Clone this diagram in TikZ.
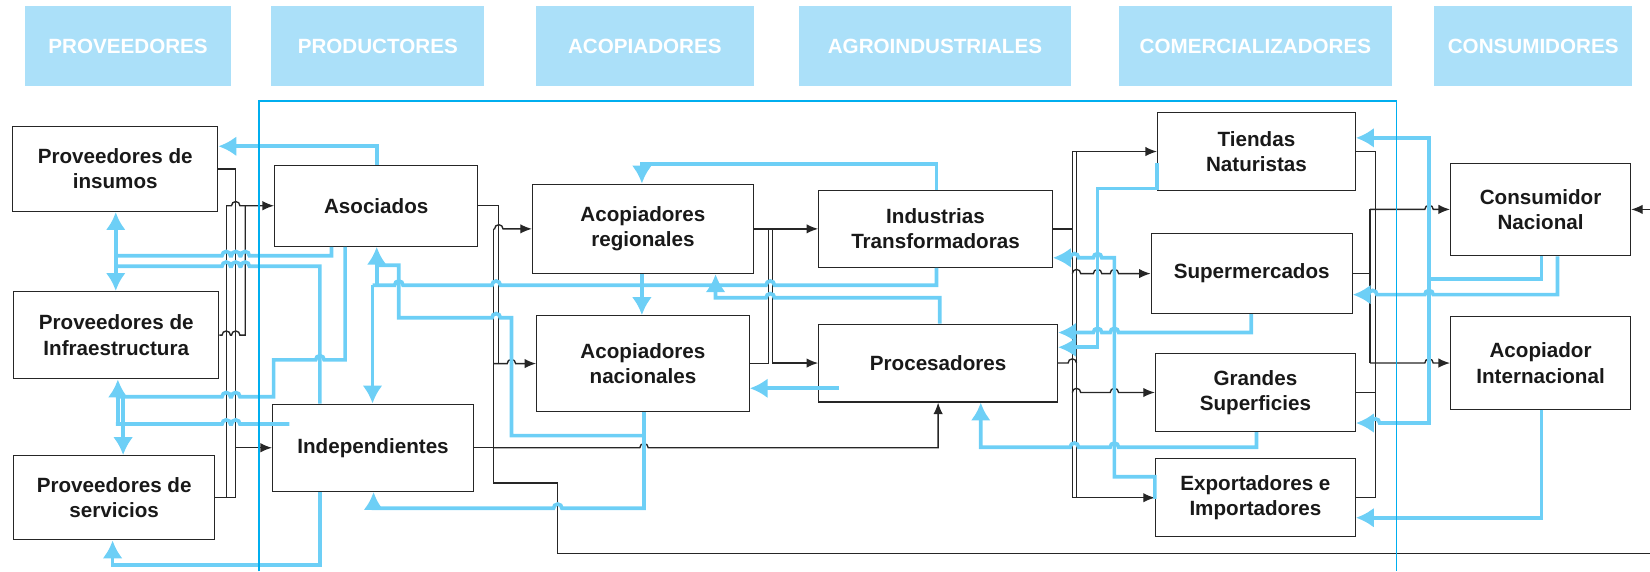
\documentclass[tikz,border=0pt]{standalone}
\usepackage{fontspec}
\setmainfont{Liberation Sans}
\usetikzlibrary{arrows.meta}
\definecolor{cabecera}{RGB}{171,224,249}
\definecolor{azulinfo}{RGB}{109,207,246}
\definecolor{marco}{RGB}{0,174,239}
\newcommand\cajafont{\fontsize{19.6}{24}\selectfont\bfseries}
% salto sobre un cruce (hacia la derecha / hacia la izquierda)
\newcommand\hopR[2]{-- (#1-4,#2) arc[start angle=180,end angle=0,radius=4pt]}
\newcommand\hopL[2]{-- (#1+4,#2) arc[start angle=0,end angle=180,radius=4pt]}
\begin{document}
\begin{tikzpicture}[x=1pt, y=-1pt,
		caja/.style={draw=black!85, line width=1.1pt, align=center, font=\cajafont, text=black!90},
		cab/.style={fill=cabecera, minimum height=76pt, font=\cajafont, text=white},
		flujo/.style={draw=black!85, line width=1.3pt},
		flecha/.style={flujo, -{Latex[length=11pt,width=9pt]}},
		info/.style={draw=azulinfo, line width=3.5pt, >={Latex[length=17pt,width=19pt]}}]
		\useasboundingbox (0,0) rectangle (1568,543);
		% cabeceras
		\node (h1) [cab, minimum width=196pt] at (121.7,44) {PROVEEDORES};
		\node (h2) [cab, minimum width=202pt] at (359,44) {PRODUCTORES};
		\node (h3) [cab, minimum width=207pt] at (612.8,44) {ACOPIADORES};
		\node (h4) [cab, minimum width=259pt] at (888.5,44) {AGROINDUSTRIALES};
		\node (h5) [cab, minimum width=260pt] at (1193,44) {COMERCIALIZADORES};
		\node (h6) [cab, minimum width=188pt] at (1457,44) {CONSUMIDORES};
		% actores
		\node (ins) [caja, minimum width=195pt, minimum height=81pt] at (109.5,160.5) {Proveedores de\\insumos};
		\node (inf) [caja, minimum width=195pt, minimum height=83pt] at (110.5,318.5) {Proveedores de\\Infraestructura};
		\node (ser) [caja, minimum width=191pt, minimum height=80pt] at (108.5,473) {Proveedores de\\servicios};
		\node (aso) [caja, minimum width=193pt, minimum height=77pt] at (357.5,195.5) {Asociados};
		\node (ind) [caja, minimum width=191pt, minimum height=83pt] at (354.5,425.5) {Independientes};
		\node (areg) [caja, minimum width=210pt, minimum height=85pt] at (611,217.5) {Acopiadores\\regionales};
		\node (anac) [caja, minimum width=202pt, minimum height=91pt] at (611,345.5) {Acopiadores\\nacionales};
		\node (itr) [caja, minimum width=222pt, minimum height=73pt] at (889,217.5) {Industrias\\Transformadoras};
		\node (pro) [caja, minimum width=227pt, minimum height=74pt] at (891.5,345) {Procesadores};
		\node (tn) [caja, minimum width=188pt, minimum height=74pt] at (1194,144) {Tiendas\\Naturistas};
		\node (sm) [caja, minimum width=191pt, minimum height=76pt] at (1189.5,260) {Supermercados};
		\node (gs) [caja, minimum width=190pt, minimum height=74pt] at (1193,373) {Grandes\\Superficies};
		\node (ei) [caja, minimum width=190pt, minimum height=74pt] at (1193,473) {Exportadores e\\Importadores};
		\node (cn) [caja, minimum width=171pt, minimum height=88pt] at (1464,199) {Consumidor\\Nacional};
		\node (ai) [caja, minimum width=171pt, minimum height=88pt] at (1464,345) {Acopiador\\Internacional};
		% flujo de producto
		\draw [flujo] (ins.east) -| (224,0 |- ind.west);
		\draw [flujo] (ser.east) -| (224,0 |- ind.west);
		\draw [flecha] (224,0 |- ind.west) -- (ind.west);
		\draw [flujo] (215,0 |- ser.east) -- (215,0 |- aso.west);
		\draw [flujo] (inf.east) \hopR{215}{318.5} \hopR{224}{318.5} -| (233,0 |- aso.west);
		\draw [flecha] (215,0 |- aso.west) \hopR{224}{195.5} -- (aso.west);
		\draw [flujo] (aso.east) -| (474,0 |- anac.west);
		\draw [flujo] (ind.east) -| (469,0 |- areg.west);
		\draw [flecha] (469,0 |- areg.west) \hopR{474}{217.5} -- (areg.west);
		\draw [flecha] (469,0 |- anac.west) \hopR{486}{345.5} -- (anac.west);
		\draw [flecha] (469,0 |- ind.east) \hopR{612}{425.5} -| (pro.south);
		\draw [flujo] (469,0 |- ind.east) -- (469,459) -- (530,459) -- (530,526) -- (1568,526);
		\draw [flecha] (areg.east) -- (itr.west);
		\draw [flujo] (734,0 |- areg.east) -- (734,0 |- pro.west);
		\draw [flecha] (734,0 |- pro.west) -- (pro.west);
		\draw [flujo] (anac.east) -| (730,0 |- areg.east);
		\draw [flujo] (itr.east) -- (1019,0 |- itr.east);
		\draw [flujo] (pro.east) \hopR{1019}{345};
		\draw [flujo] (1019,0 |- tn.west) -- (1019,0 |- ei.west);
		\draw [flujo] (1023,0 |- tn.west) -- (1023,0 |- ei.west);
		\draw [flecha] (1019,0 |- tn.west) -- (tn.west);
		\draw [flecha] (1019,0 |- sm.west) \hopR{1023}{260} \hopR{1043}{260} \hopR{1059}{260} -- (sm.west);
		\draw [flecha] (1019,0 |- gs.west) \hopR{1023}{373} \hopR{1059}{373} -- (gs.west);
		\draw [flecha] (1019,0 |- ei.west) -- (ei.west);
		\draw [flujo] (tn.east) -| (1307,0 |- ei.east) -- (ei.east);
		\draw [flujo] (sm.east) -- (1302,0 |- sm.east);
		\draw [flujo] (gs.east) -- (1307,0 |- gs.east);
		\draw [flujo] (1302,0 |- cn.west) -- (1302,0 |- ai.west);
		\draw [flecha] (1302,0 |- cn.west) \hopR{1358}{199} -- (cn.west);
		\draw [flecha] (1302,0 |- ai.west) \hopR{1358}{345} -- (ai.west);
		\draw [flecha] (1568,0 |- cn.east) -- (cn.east);
		% flujo de informacion
		\draw [info, ->] (358,0 |- aso.north) |- (ins.east |- 0,139);
		\draw [info, <->] (110,0 |- ins.south) -- (110,0 |- inf.north);
		\draw [info] (315,0 |- aso.south) -- (315,243) \hopL{233}{243} \hopL{224}{243} \hopL{215}{243} -- (110,243);
		\draw [info] (304,0 |- ind.north) -- (304,253) \hopL{233}{253} \hopL{224}{253} \hopL{215}{253} -- (110,253);
		\draw [info] (328,0 |- aso.south) -- (328,342) \hopL{304}{342} -- (260,342) -- (260,377) \hopL{224}{377} \hopL{215}{377} -- (110,377);
		\draw [info, ->] (112,403) -- (112,0 |- inf.south);
		\draw [info, ->] (117,377) -- (117,0 |- ser.north);
		\draw [info] (275,403) \hopL{224}{403} \hopL{215}{403} -- (110,403);
		\draw [info, ->] (304,0 |- ind.south) -- (304,537) -| (107,0 |- ser.south);
		\draw [info, ->] (890,0 |- itr.north) |- (610,156) -- (610,0 |- areg.north);
		\draw [info] (890,0 |- itr.south) -- (890,271) \hopL{732}{271} \hopL{471.5}{271} \hopL{379}{271} -- (354,271);
		\draw [info, ->] (354,271) -- (354,0 |- ind.north);
		\draw [info, ->] (358,271) -- (358,0 |- aso.south);
		\draw [info, ->] (893,0 |- pro.north) -- (893,283) \hopL{732}{283} -| (680,0 |- areg.south);
		\draw [info, ->] (610,0 |- areg.south) -- (610,0 |- anac.north);
		\draw [info, ->] (612,0 |- anac.south) -- (612,483) \hopL{530}{483} -| (355,0 |- ind.south);
		\draw [info] (612,414) -| (486,302) \hopL{471.5}{302} -| (379,252) -- (358,252);
		\draw [info, ->] (797,369) -- (anac.east |- 0,369);
		\draw [info, ->] (1194,0 |- gs.south) -- (1194,425) \hopL{1059}{425} \hopL{1021}{425} -| (932,0 |- pro.south);
		\draw [info, ->] (1189,0 |- sm.south) -- (1189,316) \hopL{1059}{316} \hopL{1043}{316} -- (pro.east |- 0,316);
		\draw [info, ->] (tn.west |- 0,155) |- (1043,179) -- (1043,330) -- (pro.east |- 0,330);
		\draw [info, ->] (ei.west |- 0,474) |- (1059,453) -- (1059,245) \hopL{1043}{245} \hopL{1021}{245} -- (itr.east |- 0,245);
		\draw [info] (1465,0 |- cn.south) -- (1465,265) -- (1358,265);
		\draw [info, ->] (1358,265) |- (tn.east |- 0,131);
		\draw [info, ->] (1358,265) -- (1358,402) \hopL{1307}{402} -- (gs.east |- 0,402);
		\draw [info, ->] (1480,0 |- cn.south) -- (1480,280) \hopL{1358}{280} \hopL{1304.5}{280} -- (sm.east |- 0,280);
		\draw [info, ->] (1465,0 |- ai.south) |- (ei.east |- 0,492);
		% marco de la cadena
		\draw [marco, line width=1.5pt] (246,543) |- (1327,96) -- (1327,543);
\end{tikzpicture}
\end{document}
